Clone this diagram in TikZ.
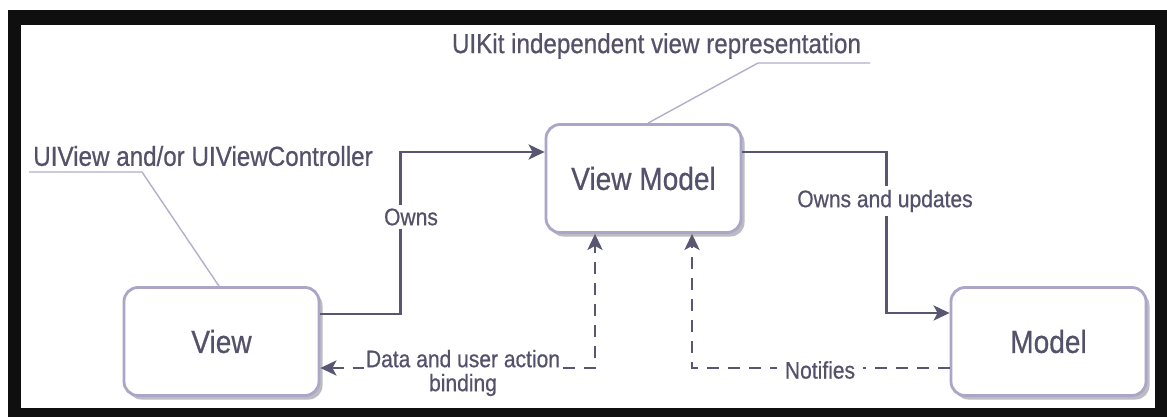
\documentclass[tikz,border=0pt]{standalone}
\usepackage{fontspec}
\setmainfont{Liberation Sans}[FakeStretch=0.88, FakeBold=0.6]
\usetikzlibrary{arrows.meta,positioning,shadows}

\definecolor{inkc}{RGB}{84,81,106}
\definecolor{linec}{RGB}{88,86,114}
\definecolor{edgec}{RGB}{170,166,200}
\definecolor{leadc}{RGB}{178,175,205}
\definecolor{shadc}{RGB}{188,188,194}
\definecolor{framec}{RGB}{15,15,15}

\begin{document}
\begin{tikzpicture}[x=1pt, y=-1pt, >={Stealth[length=16pt, width=15pt, inset=4pt]},
	comp/.style={rectangle, rounded corners=14pt, draw=edgec, line width=2.8pt, fill=white, minimum width=195pt, minimum height=108pt, text=inkc, font=\fontsize{31.9}{38}\selectfont, drop shadow={shadow xshift=3.5pt, shadow yshift=-4pt, fill=shadc, opacity=1}},
	conn/.style={draw=linec, line width=2.8pt},
	dconn/.style={conn, dash pattern=on 12pt off 9pt},
	lead/.style={draw=leadc, line width=1.4pt},
	lbl/.style={fill=white, text=inkc, inner xsep=5pt, inner ysep=4pt, font=\fontsize{23.9}{24}\selectfont},
	note/.style={text=inkc, inner sep=0pt, font=\fontsize{27.5}{30}\selectfont}]
					\useasboundingbox (0,0) rectangle (1167,417);
					\fill[white] (0,0) rectangle (1167,417);
					\fill[framec] (8,10) rectangle (1167,417);
					\fill[white] (21,25) rectangle (1155,408);

					\node[comp] (vm) at (643.5,178.5) {View Model};
					\node[comp, left of=vm, node distance=422pt, yshift=-163pt] (view) {View};
					\node[comp, right of=vm, node distance=405pt, yshift=-163pt] (model) {Model};

					\node[note] (uvt) at (203,156) {UIView and/or UIViewController};
					\node[note] (ukt) at (656.5,46) {UIKit independent view representation};
					\coordinate (uvk) at (142,172);
					\coordinate (ukk) at (758,63);
					\draw[lead] ([xshift=-2.5pt]view.north) -- (uvk) -- ++(-113,0);
					\draw[lead] ([xshift=4.5pt]vm.north) -- (ukk) -- ++(112,0);

					\draw[conn, ->] ([yshift=27.5pt]view.east) -- ++(80,0) |- ([yshift=26.5pt]vm.west);
					\draw[conn, ->] ([yshift=26.5pt]vm.east) -- ++(144,0) |- ([yshift=28.5pt]model.west);
					\draw[dconn, <->] ([yshift=-26.5pt]view.east) -| ([xshift=-48.5pt]vm.south);
					\draw[dconn, ->] ([yshift=-26.5pt]model.west) -| ([xshift=48.5pt]vm.south);

					\node[lbl] (own) at (411,217) {Owns};
					\node[lbl] (oau) at (885,201) {Owns and updates};
					\node[lbl, inner sep=2pt, align=center] (dab) at (463,373) {Data and user action\\binding};
					\node[lbl, inner xsep=8pt] (ntf) at (820,370) {Notifies};
				\end{tikzpicture}
\end{document}
